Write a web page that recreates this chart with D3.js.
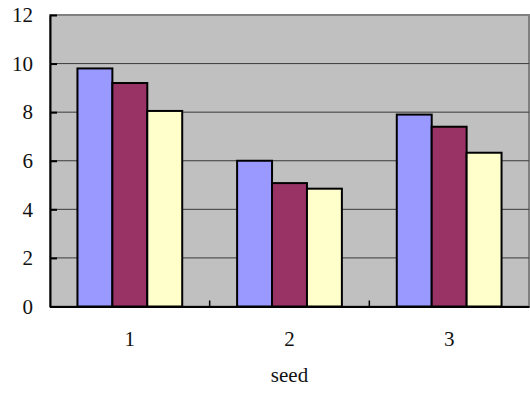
<!DOCTYPE html>
<html><head><meta charset="utf-8">
<script src="https://cdn.jsdelivr.net/npm/d3@7"></script>
<style>html,body{margin:0;padding:0;background:#fff;}svg{display:block;}</style>
</head><body>
<svg id="chart" width="530" height="394"></svg>
<script>
const categories = ["1", "2", "3"];
const seriesNames = ["A", "B", "C"];
const seriesA = [9.8, 6.0, 7.9];
const seriesB = [9.2, 5.08, 7.4];
const seriesC = [8.05, 4.85, 6.33];
const yTicks = [0, 2, 4, 6, 8, 10, 12];
const colors = ["#9999FF", "#993366", "#FFFFCC"];
const xTitle = "seed";

const series = [seriesA, seriesB, seriesC];
const svg = d3.select("#chart");
const m = {left: 50, right: 1, top: 15, bottom: 87.5};
const W = 530, H = 394;
const x0 = d3.scaleBand().domain(categories).range([m.left, W - m.right]).padding(0);
const x1 = d3.scaleBand().domain(seriesNames).range([0, x0.bandwidth()]).paddingInner(0).paddingOuter(0.786);
const y = d3.scaleLinear().domain([0, 12]).range([H - m.bottom, m.top]);
const fontFam = '"Liberation Serif"';
const fs = "21px";
function styleText(sel) {
  sel.style("font-family", fontFam).style("font-size", fs).attr("fill", "#111");
}

// plot background
svg.append("rect").attr("x", m.left).attr("y", y(12)).attr("width", x0.range()[1] - m.left)
  .attr("height", y(0) - y(12)).attr("fill", "#C0C0C0").attr("stroke", "#808080").attr("stroke-width", 2);

// gridlines
svg.append("g").selectAll("line").data(yTicks.filter(d => d > 0 && d < 12)).join("line")
  .attr("x1", m.left).attr("x2", x0.range()[1]).attr("y1", d => y(d)).attr("y2", d => y(d))
  .attr("stroke", "#3a3a3a").attr("stroke-width", 1);

// bars
const rows = categories.map((c, i) => ({cat: c, vals: seriesNames.map((s, j) => ({s, v: series[j][i], j}))}));
svg.append("g").selectAll("g").data(rows).join("g")
  .attr("transform", d => `translate(${x0(d.cat)},0)`)
  .selectAll("rect").data(d => d.vals).join("rect")
  .attr("x", d => x1(d.s)).attr("width", x1.bandwidth())
  .attr("y", d => y(d.v)).attr("height", d => y(0) - y(d.v))
  .attr("fill", d => colors[d.j]).attr("stroke", "#000").attr("stroke-width", 2);

// y axis
const ya = svg.append("g").attr("transform", `translate(${m.left},0)`)
  .call(d3.axisLeft(y).tickValues(yTicks).tickSize(-7).tickSizeOuter(0).tickPadding(17));
ya.select(".domain").attr("stroke", "#000").attr("stroke-width", 2);
ya.selectAll(".tick line").attr("stroke", "#000").attr("stroke-width", 2);
styleText(ya.selectAll("text"));

// x axis
const xa = svg.append("g").attr("transform", `translate(0,${y(0)})`)
  .call(d3.axisBottom(x0).tickSize(0).tickPadding(25));
xa.select(".domain").attr("stroke", "#000").attr("stroke-width", 2);
styleText(xa.selectAll("text"));
// category boundary ticks (inside)
svg.append("g").selectAll("line").data(categories.slice(1)).join("line")
  .attr("x1", d => x0(d)).attr("x2", d => x0(d)).attr("y1", y(0)).attr("y2", y(0) - 6)
  .attr("stroke", "#000").attr("stroke-width", 1.5);

// x title
const t = svg.append("text").attr("x", x0("2") + x0.bandwidth() / 2).attr("y", 382)
  .attr("text-anchor", "middle").text(xTitle);
styleText(t);
</script>
</body></html>
